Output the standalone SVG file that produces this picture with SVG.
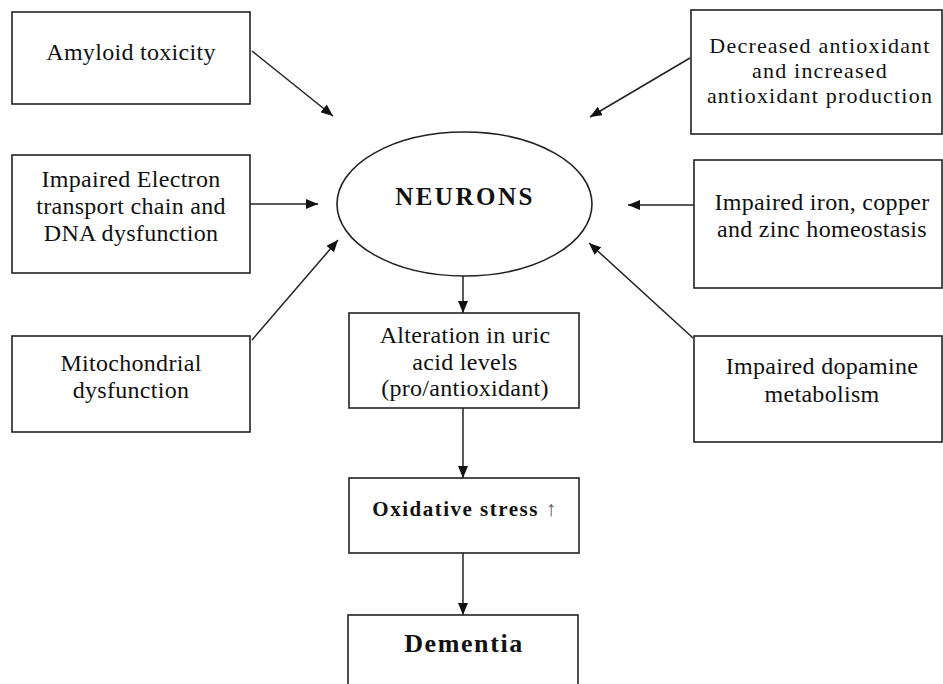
<svg xmlns="http://www.w3.org/2000/svg" width="943" height="684" viewBox="0 0 943 684">
<style>
.box{fill:#fff;stroke:#222;stroke-width:1.6}
.t{font-family:"Liberation Serif","Times New Roman",serif;font-size:24px;letter-spacing:0.3px;fill:#111;text-anchor:middle}
.s{font-size:22px;letter-spacing:1.2px}
.b{font-weight:bold}
.con{stroke:#222;stroke-width:1.5;fill:none;marker-end:url(#ah)}
</style>
<defs>
<marker id="ah" markerUnits="userSpaceOnUse" markerWidth="12" markerHeight="10" refX="12" refY="5" orient="auto">
<path d="M0,0 L12,5 L0,10 z" fill="#111"/>
</marker>
</defs>
<rect width="943" height="684" fill="#fff"/>
<g id="connectors">
<line class="con" x1="252" y1="51" x2="333" y2="116"/>
<line class="con" x1="250" y1="204" x2="318" y2="204"/>
<line class="con" x1="252" y1="340" x2="338" y2="240"/>
<line class="con" x1="690" y1="58" x2="590" y2="117"/>
<line class="con" x1="694" y1="205" x2="628" y2="205"/>
<line class="con" x1="693" y1="338" x2="589" y2="243"/>
<line class="con" x1="463" y1="276" x2="463" y2="313"/>
<line class="con" x1="463" y1="408" x2="463" y2="478"/>
<line class="con" x1="463" y1="553" x2="463" y2="615"/>
</g>
<g id="amyloid">
<rect class="box" x="12" y="12" width="238" height="92"/>
<text class="t" x="131" y="60">Amyloid toxicity</text>
</g>
<g id="electron">
<rect class="box" x="12" y="155" width="238" height="118"/>
<text class="t" x="131" y="187">Impaired Electron</text>
<text class="t" x="131" y="214">transport chain and</text>
<text class="t" x="131" y="241">DNA dysfunction</text>
</g>
<g id="mito">
<rect class="box" x="12" y="336" width="238" height="96"/>
<text class="t" x="131" y="371">Mitochondrial</text>
<text class="t" x="131" y="398">dysfunction</text>
</g>
<g id="antioxidant">
<rect class="box" x="691" y="10" width="251" height="124"/>
<text class="t s" x="820" y="53">Decreased antioxidant</text>
<text class="t s" x="820" y="78">and increased</text>
<text class="t s" x="820" y="103">antioxidant production</text>
</g>
<g id="iron">
<rect class="box" x="694" y="160" width="248" height="128"/>
<text class="t" x="822" y="210">Impaired iron, copper</text>
<text class="t" x="822" y="237">and zinc homeostasis</text>
</g>
<g id="dopamine">
<rect class="box" x="694" y="336" width="248" height="106"/>
<text class="t" x="822" y="374">Impaired dopamine</text>
<text class="t" x="822" y="402">metabolism</text>
</g>
<g id="neurons">
<ellipse cx="464.5" cy="204" rx="127.5" ry="72" fill="#fff" stroke="#222" stroke-width="1.6"/>
<text class="t b" x="465" y="205" style="font-size:25px;letter-spacing:2.5px">NEURONS</text>
</g>
<g id="uric">
<rect class="box" x="349" y="313" width="230" height="95"/>
<text class="t" x="465" y="343">Alteration in uric</text>
<text class="t" x="465" y="370">acid levels</text>
<text class="t" x="465" y="396">(pro/antioxidant)</text>
</g>
<g id="oxidative">
<rect class="box" x="349" y="478" width="230" height="75"/>
<text class="t" x="465" y="516" style="font-size:21px;letter-spacing:1.5px"><tspan class="b">Oxidative stress</tspan> <tspan fill="#555">↑</tspan></text>
</g>
<g id="dementia">
<rect class="box" x="348" y="615" width="230" height="80"/>
<text class="t b" x="464" y="652" style="font-size:26px;letter-spacing:1.6px">Dementia</text>
</g>
</svg>
